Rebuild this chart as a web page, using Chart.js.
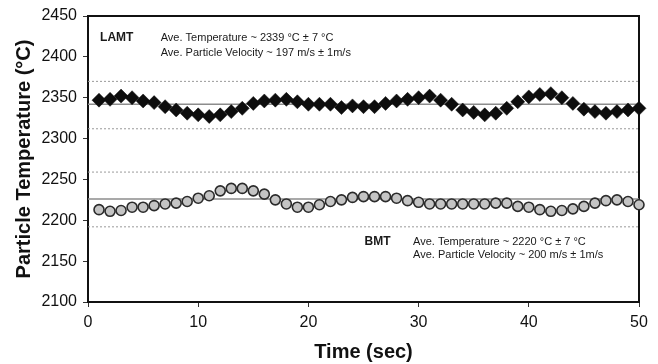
<!DOCTYPE html>
<html>
<head>
<meta charset="utf-8">
<script src="https://cdn.jsdelivr.net/npm/chart.js@4"></script>
<style>
  html, body { margin: 0; padding: 0; background: #fff; }
  canvas { display: block; }
</style>
</head>
<body>
<canvas id="myChart" width="658" height="364"></canvas>
<script>
// time axis (sec)
let seconds = [1, 2, 3, 4, 5, 6, 7, 8, 9, 10, 11, 12, 13, 14, 15, 16, 17, 18, 19, 20, 21, 22, 23, 24, 25,
  26, 27, 28, 29, 30, 31, 32, 33, 34, 35, 36, 37, 38, 39, 40, 41, 42, 43, 44, 45, 46, 47, 48, 49, 50];

// particle temperature readings (°C)
let lamtTemp = [2347, 2348, 2352, 2350, 2346, 2344, 2339, 2335, 2331, 2329, 2327, 2329, 2333, 2337, 2343,
  2346, 2347, 2348, 2345, 2342, 2342, 2342, 2338, 2340, 2339, 2339, 2343, 2346, 2348, 2350, 2352, 2347,
  2342, 2335, 2332, 2329, 2331, 2337, 2345, 2351, 2354, 2355, 2350, 2343, 2336, 2333, 2331, 2333, 2335, 2337];
let bmtTemp = [2213, 2211, 2212, 2216, 2216, 2218, 2220, 2221, 2223, 2227, 2230, 2236, 2239, 2239, 2236,
  2232, 2225, 2220, 2216, 2216, 2219, 2223, 2225, 2228, 2229, 2229, 2229, 2227, 2224, 2222, 2220, 2220,
  2220, 2220, 2220, 2220, 2221, 2221, 2217, 2216, 2213, 2211, 2212, 2214, 2217, 2221, 2224, 2225, 2223, 2219];

// reference lines
let lineSpan = [0, 50];
let lamtMean = 2342;
let lamtBand = [2370, 2312];
let bmtMean = 2226;
let bmtBand = [2259, 2192];

let xTicks = [0, 10, 20, 30, 40, 50];
let yTicks = [2100, 2150, 2200, 2250, 2300, 2350, 2400, 2450];

let lamtNotes = ["Ave. Temperature ~ 2339 °C ± 7 °C", "Ave. Particle Velocity ~ 197 m/s ± 1m/s"];
let bmtNotes = ["Ave. Temperature ~ 2220 °C ± 7 °C", "Ave. Particle Velocity ~ 200 m/s ± 1m/s"];

let fontName = "'Liberation Sans', Arial, sans-serif";

function pts(xs, ys) {
  return xs.map((x, i) => ({ x: x, y: ys[i] }));
}
function flat(v) {
  return lineSpan.map((x) => ({ x: x, y: v }));
}
function refLine(v, dashed) {
  return {
    type: "line",
    data: flat(v),
    borderColor: dashed ? "#9a9a9a" : "#8c8c8c",
    borderWidth: dashed ? 1 : 1.5,
    borderDash: dashed ? [2, 2] : [],
    pointRadius: 0,
    showLine: true,
    order: 5,
  };
}

let boxPlugin = {
  id: "box",
  beforeDatasetsDraw(chart) {
    let a = chart.chartArea;
    let ctx = chart.ctx;
    ctx.save();
    ctx.strokeStyle = "#111";
    ctx.lineWidth = 2;
    ctx.strokeRect(a.left, a.top, a.right - a.left, a.bottom - a.top);
    ctx.restore();
  },
};

let notePlugin = {
  id: "notes",
  afterDraw(chart) {
    let ctx = chart.ctx;
    let xs = chart.scales.x;
    let ys = chart.scales.y;
    ctx.save();
    ctx.fillStyle = "#1a1a1a";
    ctx.textBaseline = "middle";
    ctx.textAlign = "left";

    ctx.font = "bold 12px " + fontName;
    ctx.fillText("LAMT", xs.getPixelForValue(1.1), ys.getPixelForValue(2423));
    ctx.fillText("BMT", xs.getPixelForValue(25.1), ys.getPixelForValue(2174));

    ctx.font = "11px " + fontName;
    ctx.fillText(lamtNotes[0], xs.getPixelForValue(6.6), ys.getPixelForValue(2423));
    ctx.fillText(lamtNotes[1], xs.getPixelForValue(6.6), ys.getPixelForValue(2405));
    ctx.fillText(bmtNotes[0], xs.getPixelForValue(29.5), ys.getPixelForValue(2174));
    ctx.fillText(bmtNotes[1], xs.getPixelForValue(29.5), ys.getPixelForValue(2157));
    ctx.restore();
  },
};

let mychart = document.getElementById("myChart").getContext("2d");
let scatterChart = new Chart(mychart, {
  type: "scatter",
  data: {
    datasets: [
      {
        label: "LAMT",
        data: pts(seconds, lamtTemp),
        pointStyle: "rectRot",
        pointRadius: 7,
        pointBackgroundColor: "#0d0d0d",
        pointBorderColor: "#0d0d0d",
        pointBorderWidth: 0.5,
        showLine: false,
        clip: false,
        order: 1,
      },
      {
        label: "BMT",
        data: pts(seconds, bmtTemp),
        pointStyle: "circle",
        pointRadius: 5,
        pointBackgroundColor: "#c4c4c4",
        pointBorderColor: "#2b2b2b",
        pointBorderWidth: 1.6,
        showLine: false,
        clip: false,
        order: 1,
      },
      refLine(lamtMean, false),
      refLine(lamtBand[0], true),
      refLine(lamtBand[1], true),
      refLine(bmtMean, false),
      refLine(bmtBand[0], true),
      refLine(bmtBand[1], true),
    ],
  },
  options: {
    responsive: false,
    animation: false,
    layout: { padding: { left: 0, top: 16, right: 19, bottom: 0 } },
    plugins: {
      legend: { display: false },
      tooltip: { enabled: false },
    },
    scales: {
      x: {
        type: "linear",
        min: 0,
        max: 50,
        afterBuildTicks: (s) => { s.ticks = xTicks.map((v) => ({ value: v })); },
        afterFit: (s) => { s.height = 62; },
        ticks: { color: "#111", padding: 6, font: { family: fontName, size: 16 } },
        grid: { drawOnChartArea: false, tickLength: 5, color: "#333" },
        border: { color: "#111", width: 2 },
        title: {
          display: true,
          text: "Time (sec)",
          color: "#111",
          padding: { top: 0, bottom: 0 },
          font: { family: fontName, size: 20, weight: "bold" },
        },
      },
      y: {
        type: "linear",
        min: 2100,
        max: 2450,
        afterBuildTicks: (s) => { s.ticks = yTicks.map((v) => ({ value: v })); },
        afterFit: (s) => { s.width = 88; },
        ticks: {
          color: "#111",
          padding: 6,
          font: { family: fontName, size: 16 },
          callback: (v) => String(v),
        },
        grid: { drawOnChartArea: false, tickLength: 5, color: "#333" },
        border: { color: "#111", width: 2 },
        title: {
          display: true,
          text: "Particle Temperature (°C)",
          color: "#111",
          padding: { top: 12, bottom: 0 },
          font: { family: fontName, size: 20, weight: "bold" },
        },
      },
    },
  },
  plugins: [boxPlugin, notePlugin],
});
</script>
</body>
</html>
